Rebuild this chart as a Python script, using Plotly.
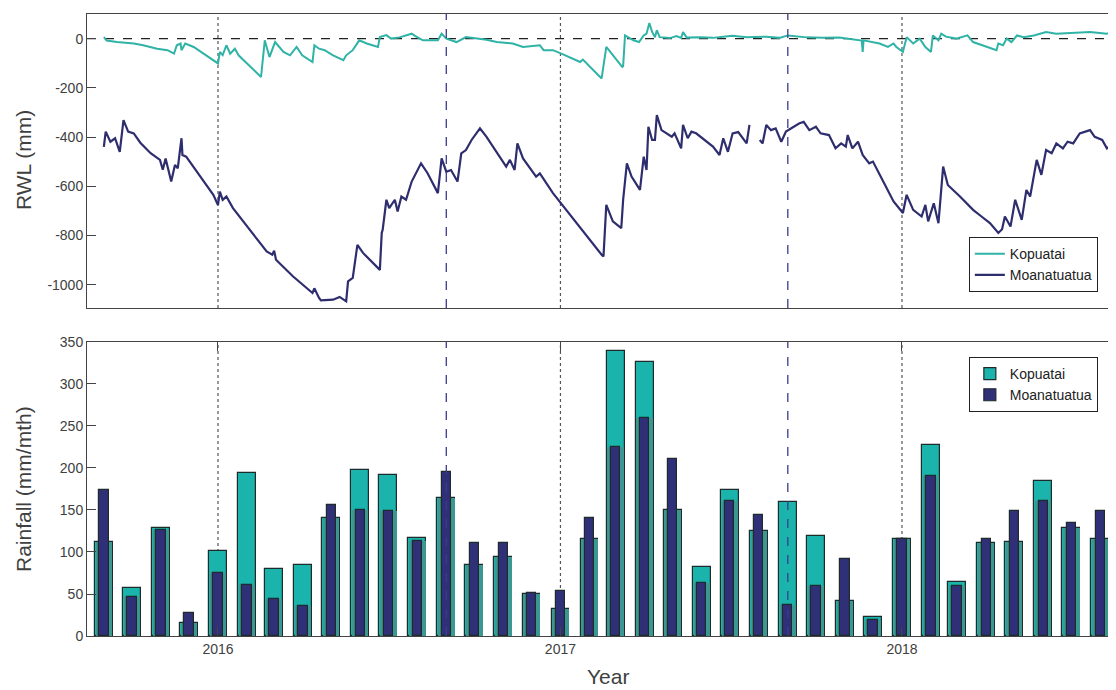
import numpy as np
import plotly.graph_objects as go

# ---------------- data ----------------
kop_dates = [
    "2015-09-01","2015-09-04","2015-09-15","2015-10-03","2015-10-13","2015-10-28","2015-11-08",
    "2015-11-15","2015-11-18","2015-11-22","2015-11-23","2015-11-27","2015-12-06","2015-12-17",
    "2015-12-27","2016-01-01","2016-01-03","2016-01-06","2016-01-10","2016-01-14","2016-01-19",
    "2016-01-23","2016-02-16","2016-02-20","2016-02-25","2016-03-02","2016-03-11","2016-03-18",
    "2016-03-25","2016-03-31","2016-04-11","2016-04-13","2016-04-18","2016-04-24","2016-05-03",
    "2016-05-14","2016-05-17","2016-05-24","2016-05-31","2016-06-08","2016-06-20","2016-06-22",
    "2016-06-29","2016-07-04","2016-07-13","2016-07-26","2016-07-30","2016-08-07","2016-08-23",
    "2016-08-27","2016-09-01","2016-09-12","2016-09-22","2016-10-03","2016-10-14","2016-10-25",
    "2016-11-11","2016-11-22","2016-12-10","2016-12-14","2016-12-24","2017-01-02","2017-01-22",
    "2017-01-25","2017-02-14","2017-02-19","2017-03-08","2017-03-09","2017-03-11","2017-03-20",
    "2017-03-26","2017-03-31","2017-04-03","2017-04-06","2017-04-09","2017-04-12","2017-04-14",
    "2017-04-17","2017-04-28","2017-05-05","2017-05-10","2017-05-12","2017-05-16","2017-05-31",
    "2017-06-13","2017-06-24","2017-07-04","2017-07-19","2017-08-09","2017-08-23","2017-09-01",
    "2017-09-21","2017-10-08","2017-10-26","2017-11-15","2017-11-19","2017-11-20","2017-11-21",
    "2017-12-08","2017-12-17","2017-12-23","2017-12-26","2018-01-02","2018-01-06","2018-01-13",
    "2018-01-20","2018-01-26","2018-02-01","2018-02-03","2018-02-09","2018-02-12","2018-02-17",
    "2018-02-28","2018-03-12","2018-03-18","2018-04-01","2018-04-12","2018-04-14","2018-04-19",
    "2018-04-23","2018-04-28","2018-05-04","2018-05-11","2018-05-22","2018-05-29","2018-06-04",
    "2018-06-15","2018-07-03","2018-07-21","2018-08-08","2018-08-18",
]
kop_rwl = [
    6, -8, -14, -20, -27, -41, -47,
    -61, -27, -20, -47, -20, -34, -61,
    -88, -101, -54, -67, -27, -61, -41,
    -68, -156, -7, -75, -14, -54, -68,
    -34, -68, -95, -27, -41, -47, -68,
    -88, -68, -47, -7, -20, -34, 6,
    14, 0, 5, 20, 10, -7, -7,
    20, 0, -14, 6, 2, -5, -14,
    -20, -34, -27, -47, -47, -61, -95,
    -85, -162, -34, -115, -112, 13, -7,
    -14, 13, 20, 63, 27, 5, 34,
    6, 2, 10, 3, 27, 4, 5,
    3, 8, 12, 6, 8, 3, 13,
    5, 3, 4, -7, -8, -54, -7,
    -20, -34, -20, -34, -54, 6, -20,
    0, -34, -54, 13, -7, 20, 8,
    0, 13, -14, -34, -47, -20, -27,
    0, -14, 13, 6, 13, 20, 27,
    20, 23, 27, 20, 34,
]

moa_dates = [
    "2015-09-01","2015-09-03","2015-09-08","2015-09-13","2015-09-18","2015-09-22","2015-09-27",
    "2015-10-03","2015-10-10","2015-10-21","2015-10-31","2015-11-03","2015-11-06","2015-11-12",
    "2015-11-16","2015-11-19","2015-11-23","2015-11-24","2015-11-28","2015-12-13","2015-12-27",
    "2016-01-01","2016-01-03","2016-01-06","2016-01-10","2016-01-17","2016-02-07","2016-02-14",
    "2016-02-22","2016-02-28","2016-03-01","2016-03-03","2016-03-21","2016-04-11","2016-04-13",
    "2016-04-18","2016-04-20","2016-05-03","2016-05-10","2016-05-17","2016-05-19","2016-05-24",
    "2016-05-29","2016-06-04","2016-06-20","2016-06-22","2016-06-24","2016-06-25","2016-06-29",
    "2016-07-02","2016-07-08","2016-07-11","2016-07-15","2016-07-20","2016-07-26","2016-08-05",
    "2016-08-12","2016-08-23","2016-08-27","2016-09-01","2016-09-06","2016-09-13","2016-09-17",
    "2016-09-22","2016-09-28","2016-10-07","2016-10-14","2016-11-04","2016-11-08","2016-11-13",
    "2016-11-16","2016-11-22","2016-12-06","2016-12-10","2016-12-24","2016-12-31","2017-01-22",
    "2017-01-29","2017-02-14","2017-02-16","2017-02-19","2017-02-26","2017-03-07","2017-03-09",
    "2017-03-13","2017-03-18","2017-03-27","2017-03-31","2017-04-03","2017-04-05","2017-04-09",
    "2017-04-12","2017-04-14","2017-04-19","2017-04-30","2017-05-03","2017-05-10","2017-05-12",
    "2017-05-17","2017-05-21","2017-05-26","2017-06-13","2017-06-20","2017-06-24","2017-06-29",
    "2017-07-04","2017-07-10","2017-07-19","2017-07-22","2017-07-27","2017-08-02","2017-08-05",
    "2017-08-09","2017-08-14","2017-08-19","2017-08-25","2017-08-30","2017-09-06","2017-09-13",
    "2017-09-18","2017-09-24","2017-10-01","2017-10-06","2017-10-15","2017-10-22","2017-10-28",
    "2017-11-02","2017-11-04","2017-11-09","2017-11-15","2017-11-20","2017-11-27","2017-12-01",
    "2017-12-12","2017-12-23","2018-01-02","2018-01-06","2018-01-13","2018-01-22","2018-01-26",
    "2018-01-29","2018-02-04","2018-02-09","2018-02-14","2018-02-19","2018-03-04","2018-03-18",
    "2018-03-27","2018-04-05","2018-04-14","2018-04-18","2018-04-21","2018-04-27","2018-05-02",
    "2018-05-09","2018-05-14","2018-05-18","2018-05-25","2018-05-30","2018-06-04","2018-06-10",
    "2018-06-15","2018-06-22","2018-06-27","2018-07-03","2018-07-10","2018-07-21","2018-07-26",
    "2018-08-03","2018-08-08","2018-08-13","2018-08-18",
]
moa_rwl = [
    -440, -378, -419, -405, -460, -331, -378,
    -385, -423, -466, -493, -533, -487, -581,
    -514, -527, -405, -473, -480, -561, -635,
    -676, -622, -655, -642, -689, -790, -822,
    -865, -878, -862, -899, -966, -1034, -1015,
    -1054, -1064, -1061, -1050, -1068, -987, -973,
    -838, -871, -932, -940, -790, -777, -655,
    -689, -655, -703, -642, -655, -581, -507,
    -547, -628, -487, -541, -534, -581, -466,
    -453, -412, -365, -399, -520, -493, -534,
    -426, -487, -561, -548, -628, -662, -770,
    -804, -878, -885, -676, -743, -770, -655,
    -507, -561, -615, -480, -534, -358, -412,
    -412, -311, -372, -399, -385, -446, -351,
    -405, -378, -385, -439, -473, -405, -460,
    -385, -380, -426, -351, None, -412, -426,
    -351, -372, -365, -419, -378, -360, -345,
    -338, -372, -358, -385, -392, -446, -426,
    -439, -392, -446, -419, -473, -507, -500,
    -581, -662, -709, -635, -696, -723, -676,
    -743, -669, -750, -520, -595, -642, -696,
    -723, -750, -790, -775, -723, -764, -655,
    -737, -615, -642, -493, -554, -453, -466,
    -426, -446, -419, -426, -385, -372, -399,
    -412, -446, -433, -446,
]

months = [
    "2015-09-01","2015-10-01","2015-11-01","2015-12-01",
    "2016-01-01","2016-02-01","2016-03-01","2016-04-01","2016-05-01","2016-06-01",
    "2016-07-01","2016-08-01","2016-09-01","2016-10-01","2016-11-01","2016-12-01",
    "2017-01-01","2017-02-01","2017-03-01","2017-04-01","2017-05-01","2017-06-01",
    "2017-07-01","2017-08-01","2017-09-01","2017-10-01","2017-11-01","2017-12-01",
    "2018-01-01","2018-02-01","2018-03-01","2018-04-01","2018-05-01","2018-06-01",
    "2018-07-01","2018-08-01",
]
kop_rain = [112, 57, 129, 15, 101, 194, 80, 85, 140, 198, 192, 117,
            164, 84, 94, 50, 32, 115, 339, 326, 150, 82, 174, 125,
            159, 119, 42, 23, 115, 227, 64, 111, 112, 185, 129, 115]
moa_rain = [174, 47, 126, 27, 75, 61, 44, 36, 156, 150, 149, 113,
            195, 111, 111, 51, 54, 140, 225, 260, 211, 63, 161, 144,
            37, 60, 92, 19, 115, 190, 59, 116, 149, 161, 135, 149]

year_ticks = ["2016-01-01", "2017-01-01", "2018-01-01"]
year_labels = ["2016", "2017", "2018"]
season_lines = ["2016-09-01", "2017-09-01"]
rwl_ticks = [0, -200, -400, -600, -800, -1000]
rwl_labels = ["0", "-200", "-400", "-600", "-800", "-1000"]
rain_ticks = [0, 50, 100, 150, 200, 250, 300, 350]

# ---------------- style ----------------
FONT = "Liberation Sans, Arial, sans-serif"
TXT = "#404040"
TEAL_LINE = "#30b3a7"
NAVY_LINE = "#2e2d6e"
TEAL_BAR = "#1bb4ad"
TEAL_DARK = "#3a9791"
NAVY_BAR = "#2f3078"
EDGE = "#1f2a2a"
DAY = 86400000

fig = go.Figure()

fig.add_trace(go.Scatter(x=kop_dates, y=kop_rwl, mode="lines", name="Kopuatai",
                         line=dict(color=TEAL_LINE, width=2), xaxis="x", yaxis="y",
                         legend="legend"))
fig.add_trace(go.Scatter(x=moa_dates, y=moa_rwl, mode="lines", name="Moanatuatua",
                         line=dict(color=NAVY_LINE, width=2.2), xaxis="x", yaxis="y",
                         connectgaps=False, legend="legend"))

fig.add_trace(go.Bar(x=months, y=kop_rain, name="Kopuatai", width=19 * DAY,
                     marker=dict(color=TEAL_BAR, line=dict(color=EDGE, width=1.2)),
                     xaxis="x2", yaxis="y2", legend="legend2"))
fig.add_trace(go.Bar(x=months, y=np.minimum(kop_rain, moa_rain), width=17.6 * DAY,
                     marker=dict(color=TEAL_DARK, line=dict(width=0)),
                     showlegend=False, hoverinfo="skip", xaxis="x2", yaxis="y2"))
fig.add_trace(go.Bar(x=months, y=moa_rain, name="Moanatuatua", width=10 * DAY,
                     marker=dict(color=NAVY_BAR, line=dict(color=EDGE, width=1.2)),
                     xaxis="x2", yaxis="y2", legend="legend2"))

xrange = ["2015-08-14", "2018-08-17 18:00"]
top_dom = [0.5273, 1.0]
bot_dom = [0.0, 0.4727]

axis_common = dict(showgrid=False, zeroline=False, showline=True, linecolor="#444",
                   linewidth=1, tickfont=dict(family=FONT, size=14, color=TXT),
                   ticks="inside", ticklen=9, tickcolor="#444", automargin=False)

# The page body has an 8px margin, so the figure is sized 8px smaller on each side.
fig.update_layout(
    width=1108, height=682,
    margin=dict(l=79, r=0, t=6, b=54),
    paper_bgcolor="white", plot_bgcolor="white",
    barmode="overlay", bargap=0,
    font=dict(family=FONT, color=TXT),
    xaxis=dict(axis_common, type="date", range=xrange, domain=[0, 1], anchor="y",
               tickvals=year_ticks, ticktext=year_labels, showticklabels=False,
               ticks="", mirror=True),
    yaxis=dict(axis_common, domain=top_dom, range=[-1095, 100], anchor="x",
               tickvals=rwl_ticks, ticktext=rwl_labels),
    xaxis2=dict(axis_common, type="date", range=xrange, domain=[0, 1], anchor="y2",
                tickvals=year_ticks, ticktext=year_labels, mirror="ticks"),
    yaxis2=dict(axis_common, domain=bot_dom, range=[0, 350], anchor="x2",
                tickvals=rain_ticks),
    legend=dict(x=0.857, y=0.553, xanchor="left", yanchor="bottom",
                bgcolor="white", bordercolor="#222", borderwidth=1,
                font=dict(family=FONT, size=14, color="#222"), tracegroupgap=0),
    legend2=dict(x=0.857, y=0.4486, xanchor="left", yanchor="top",
                 bgcolor="white", bordercolor="#222", borderwidth=1,
                 font=dict(family=FONT, size=14, color="#222"), tracegroupgap=0),
)

title_font = dict(family=FONT, size=21, color=TXT)
fig.add_annotation(text="RWL (mm)", xref="paper", yref="paper", x=-0.0622, y=(636 - 160) / 622,
                   textangle=-90, showarrow=False, font=title_font,
                   xanchor="center", yanchor="middle")
fig.add_annotation(text="Rainfall (mm/mth)", xref="paper", yref="paper", x=-0.0622,
                   y=(636 - 489) / 622, textangle=-90, showarrow=False, font=title_font,
                   xanchor="center", yanchor="middle")
fig.add_annotation(text="Year", xref="paper", yref="paper", x=0.506, y=(636 - 677) / 622,
                   showarrow=False, font=title_font, xanchor="center", yanchor="middle")

shapes = []
shapes.append(dict(type="line", xref="x domain", yref="y", x0=0, x1=1, y0=0, y1=0,
                   line=dict(color="#222", width=1.3, dash="dash"), layer="below"))
for yr in ["y", "y2"]:
    xr = "x" if yr == "y" else "x2"
    for d in year_ticks:
        shapes.append(dict(type="line", xref=xr, yref=yr + " domain", x0=d, x1=d, y0=0, y1=1,
                           line=dict(color="#555", width=1.2, dash="dot"), layer="below"))
    for d in season_lines:
        shapes.append(dict(type="line", xref=xr, yref=yr + " domain", x0=d, x1=d, y0=0, y1=1,
                           line=dict(color="#3b3b8f", width=1.3, dash="dash"), layer="above"))
fig.update_layout(shapes=shapes)

fig.write_html("out.html")
